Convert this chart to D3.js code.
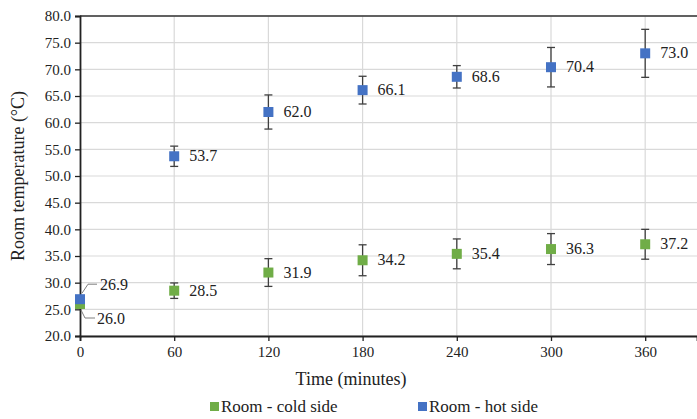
<!DOCTYPE html>
<html>
<head>
<meta charset="utf-8">
<script src="https://cdn.jsdelivr.net/npm/d3@7"></script>
<style>
  body { margin: 0; background: #fff; }
  svg text { fill: #222; }
</style>
</head>
<body>
<svg id="chart" width="697" height="419"></svg>
<script>
// ── Data ──────────────────────────────────────────────────────────────────
const times = [0, 60, 120, 180, 240, 300, 360];
const coldSide = [26.0, 28.5, 31.9, 34.2, 35.4, 36.3, 37.2];
const coldErr = [0, 1.45, 2.6, 2.9, 2.8, 2.9, 2.8];
const hotSide = [26.9, 53.7, 62.0, 66.1, 68.6, 70.4, 73.0];
const hotErr = [0, 1.9, 3.2, 2.6, 2.1, 3.7, 4.5];
const yTicks = [20, 25, 30, 35, 40, 45, 50, 55, 60, 65, 70, 75, 80];

const series = [
  { name: "Room - cold side", color: "#70ad47", values: coldSide, err: coldErr },
  { name: "Room - hot side", color: "#4472c4", values: hotSide, err: hotErr },
];

const FONT = "'Liberation Serif', 'Times New Roman', Tinos, 'DejaVu Serif', serif";

// ── Layout ────────────────────────────────────────────────────────────────
const svg = d3.select("#chart").style("font-family", FONT);
const plotL = 80, plotR = 697, plotT = 16, plotB = 336;

const x = d3.scaleLinear().domain([0, 393]).range([plotL, plotR]);
const y = d3.scaleLinear().domain([20, 80]).range([plotB, plotT]);

// gridlines
svg.append("g")
  .selectAll("line")
  .data(yTicks)
  .join("line")
  .attr("x1", plotL).attr("x2", plotR)
  .attr("y1", (d) => y(d)).attr("y2", (d) => y(d))
  .attr("stroke", "#d9d9d9").attr("stroke-width", 1.2);

svg.append("g")
  .selectAll("line")
  .data(times.slice(1))
  .join("line")
  .attr("x1", (d) => x(d)).attr("x2", (d) => x(d))
  .attr("y1", plotT).attr("y2", plotB)
  .attr("stroke", "#d9d9d9").attr("stroke-width", 1.2);

// top frame line
svg.append("line")
  .attr("x1", plotL).attr("x2", plotR)
  .attr("y1", plotT).attr("y2", plotT)
  .attr("stroke", "#333").attr("stroke-width", 1.3);

// ── Axes ──────────────────────────────────────────────────────────────────
const yAxis = svg.append("g")
  .attr("transform", `translate(${plotL},0)`)
  .call(d3.axisLeft(y).tickValues(yTicks).tickFormat(d3.format(".1f")).tickSize(5).tickPadding(4));
const xAxis = svg.append("g")
  .attr("transform", `translate(0,${plotB})`)
  .call(d3.axisBottom(x).tickValues(times).tickSize(5).tickPadding(5));

[yAxis, xAxis].forEach((g) => {
  g.attr("font-family", null).style("font-family", FONT);
  g.select(".domain").attr("stroke", "#222").attr("stroke-width", 1.8);
  g.selectAll(".tick line").attr("stroke", "#222").attr("stroke-width", 1.3);
  g.selectAll(".tick text")
    .style("font-family", FONT)
    .attr("font-size", 15)
    .attr("fill", "#222");
});

svg.append("text")
  .attr("transform", `translate(24,${(plotT + plotB) / 2}) rotate(-90)`)
  .attr("text-anchor", "middle")
  .attr("font-size", 18)
  .text("Room temperature (°C)");

svg.append("text")
  .attr("x", 351).attr("y", 385)
  .attr("text-anchor", "middle")
  .attr("font-size", 18)
  .text("Time (minutes)");

// ── Error bars + markers ─────────────────────────────────────────────────
series.forEach((s) => {
  const pts = times.map((t, i) => ({ t, v: s.values[i], e: s.err[i], i }));
  const eb = svg.append("g").selectAll("g").data(pts.filter((d) => d.e > 0)).join("g");
  eb.append("line")
    .attr("x1", (d) => x(d.t)).attr("x2", (d) => x(d.t))
    .attr("y1", (d) => y(d.v - d.e)).attr("y2", (d) => y(d.v + d.e))
    .attr("stroke", "#404040").attr("stroke-width", 1.3);
  [-1, 1].forEach((sgn) => {
    eb.append("line")
      .attr("x1", (d) => x(d.t) - 4).attr("x2", (d) => x(d.t) + 4)
      .attr("y1", (d) => y(d.v + sgn * d.e)).attr("y2", (d) => y(d.v + sgn * d.e))
      .attr("stroke", "#404040").attr("stroke-width", 1.3);
  });
  s.pts = pts;
});

series.forEach((s) => {
  svg.append("g").selectAll("rect").data(s.pts).join("rect")
    .attr("x", (d) => x(d.t) - 5).attr("y", (d) => y(d.v) - 5)
    .attr("width", 10).attr("height", 10)
    .attr("fill", s.color);
});

// ── Data labels ──────────────────────────────────────────────────────────
series.forEach((s) => {
  svg.append("g").selectAll("text").data(s.pts.filter((d) => d.t > 0)).join("text")
    .attr("x", (d) => x(d.t) + 15).attr("y", (d) => y(d.v) + 5)
    .attr("font-size", 16)
    .text((d) => d.v.toFixed(1));
});

// labels at t=0 with leader lines
const hot0 = hotSide[0], cold0 = coldSide[0];
svg.append("path")
  .attr("d", `M${x(0) + 2},${y(hot0) - 6} L${x(0) + 8},${y(hot0) - 15} L${x(0) + 17},${y(hot0) - 15}`)
  .attr("fill", "none").attr("stroke", "#7f7f7f").attr("stroke-width", 1);
svg.append("text")
  .attr("x", x(0) + 20).attr("y", y(hot0) - 9)
  .attr("font-size", 16)
  .text(hot0.toFixed(1));
svg.append("path")
  .attr("d", `M${x(0) + 1},${y(cold0) + 6} L${x(0) + 5},${y(cold0) + 14} L${x(0) + 15},${y(cold0) + 14}`)
  .attr("fill", "none").attr("stroke", "#7f7f7f").attr("stroke-width", 1);
svg.append("text")
  .attr("x", x(0) + 17).attr("y", y(cold0) + 20)
  .attr("font-size", 16)
  .text(cold0.toFixed(1));

// ── Legend ───────────────────────────────────────────────────────────────
const legendX = [210, 418];
const legend = svg.append("g").selectAll("g").data(series).join("g")
  .attr("transform", (d, i) => `translate(${legendX[i]},402)`);
legend.append("rect").attr("width", 9).attr("height", 9).attr("fill", (d) => d.color);
legend.append("text")
  .attr("x", 11).attr("y", 10)
  .attr("font-size", 17)
  .text((d) => d.name);
</script>
</body>
</html>
